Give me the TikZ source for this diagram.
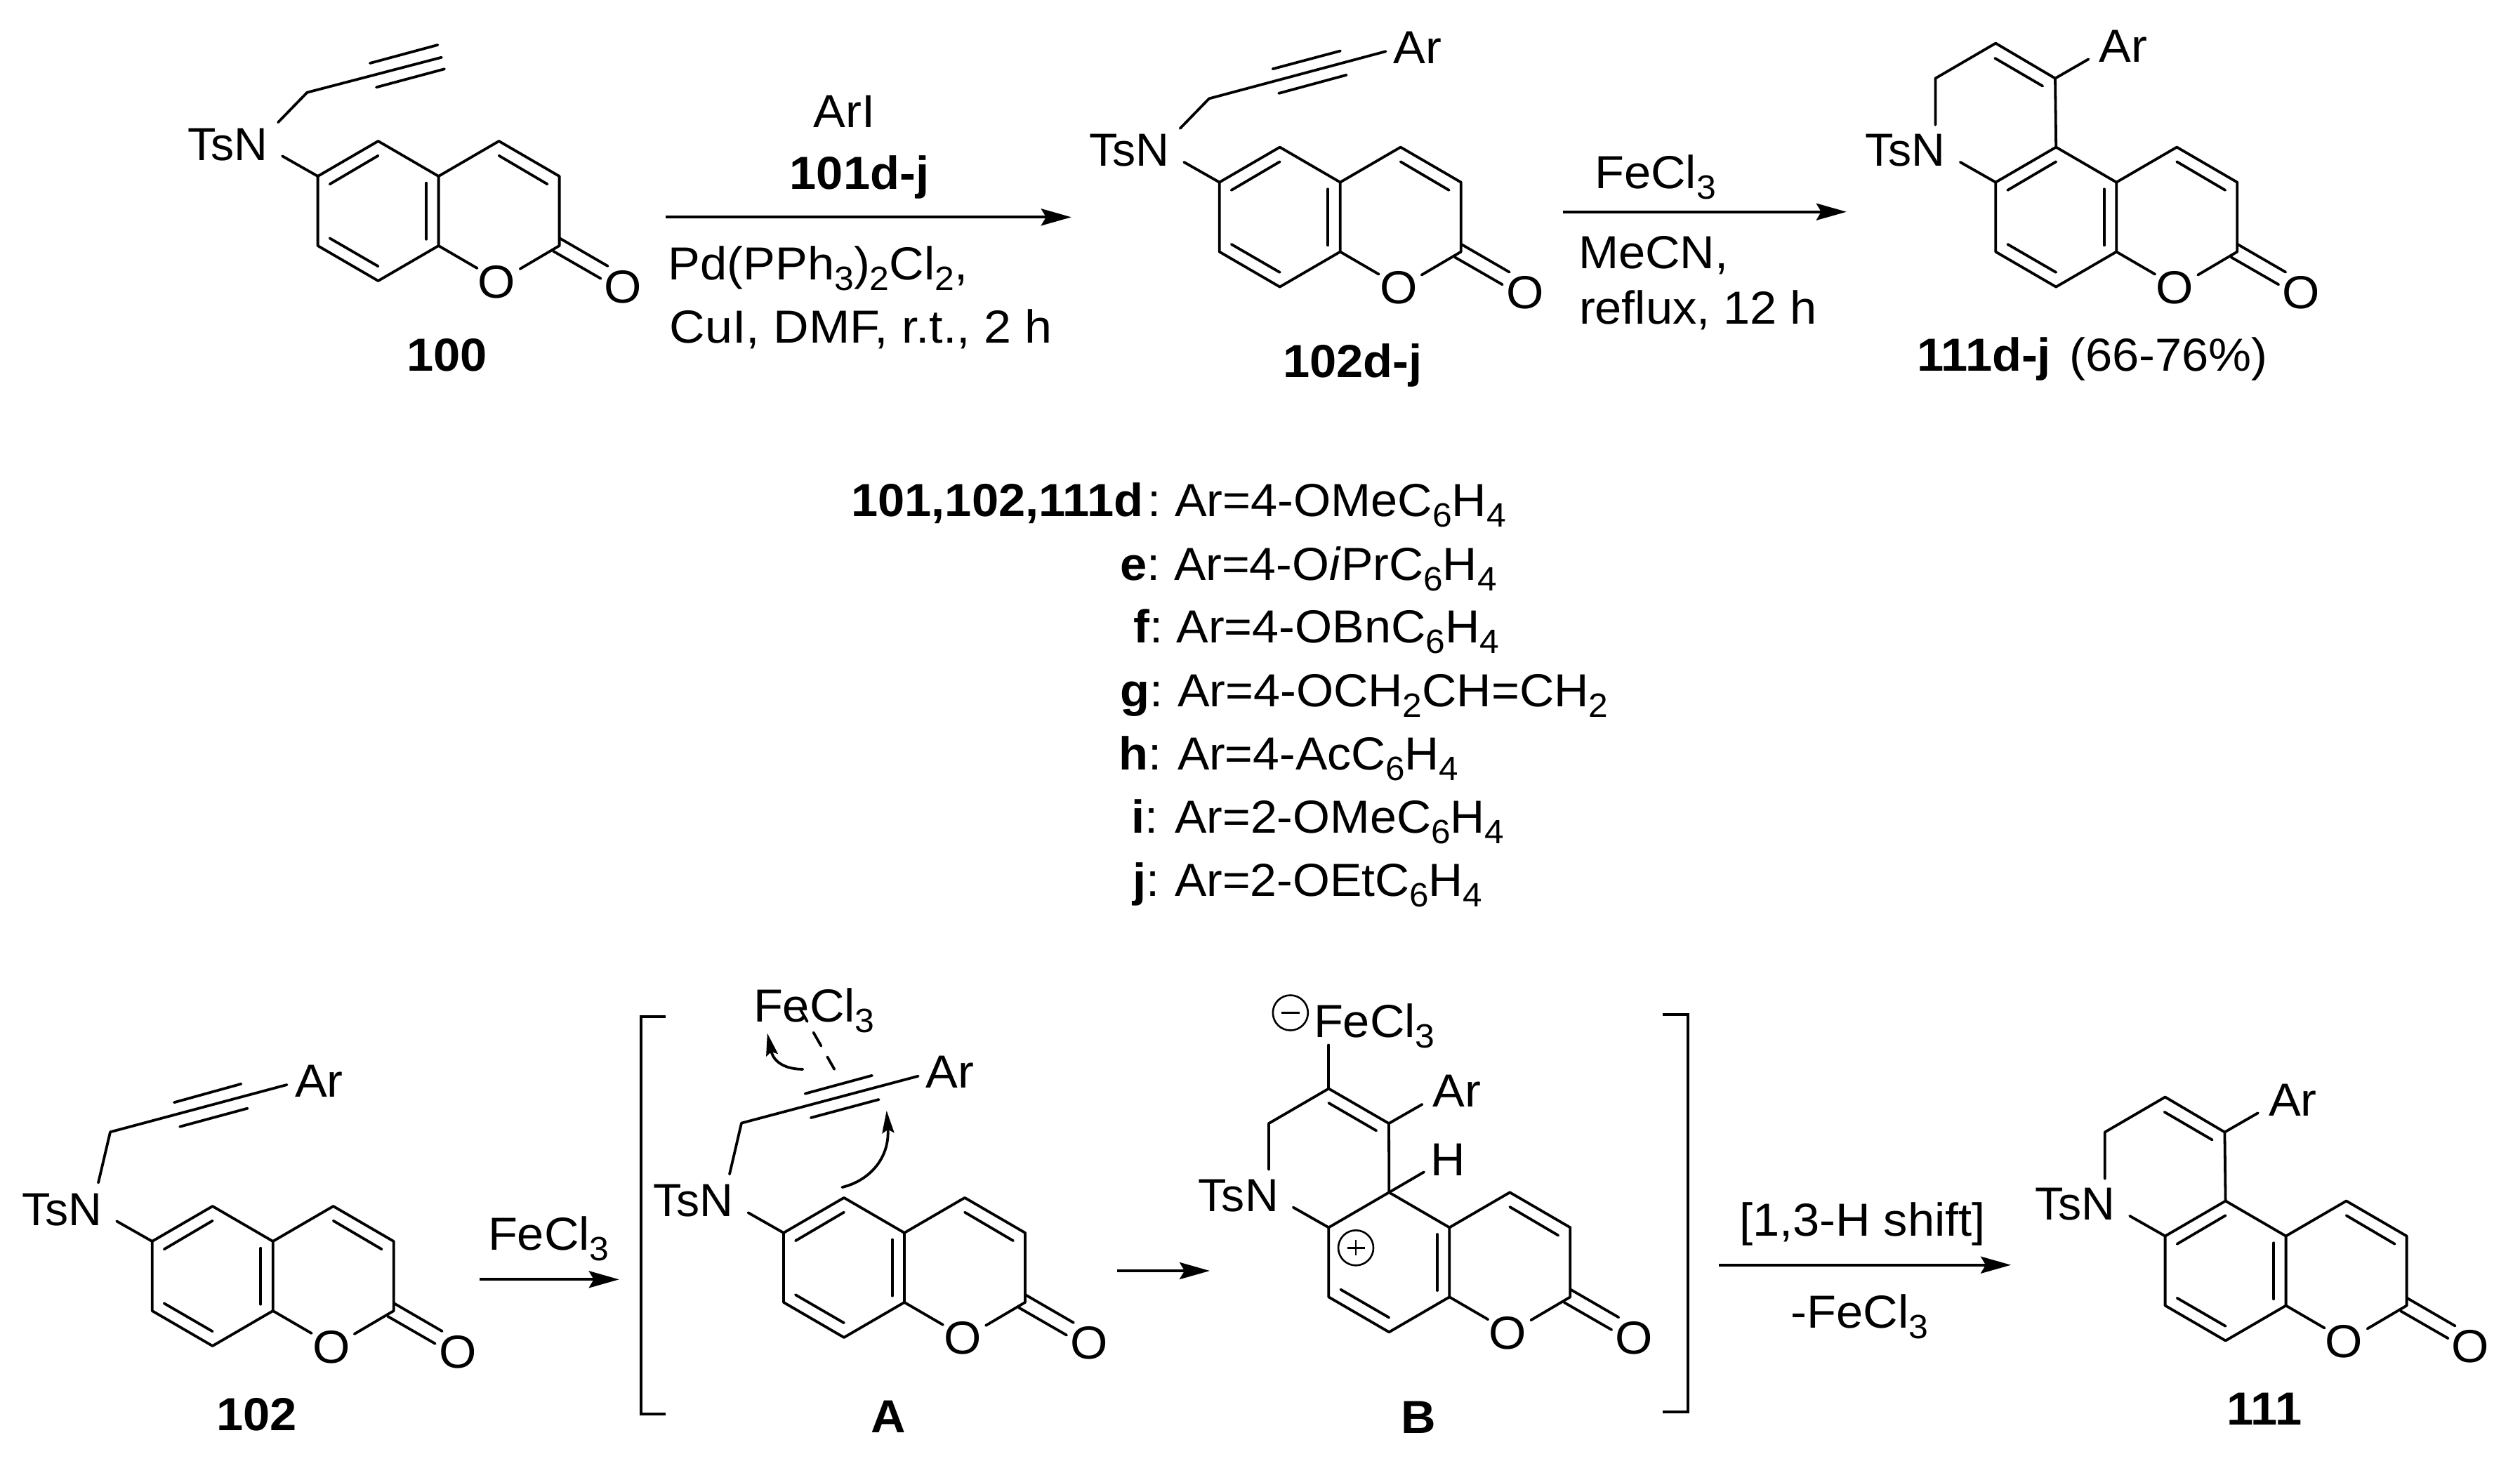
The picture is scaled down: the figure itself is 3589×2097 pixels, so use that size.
\documentclass[tikz,border=0pt]{standalone}
\usepackage{fontspec}
\usepackage{graphicx}
\setmainfont[FakeStretch=1.04]{Liberation Sans}
\usetikzlibrary{arrows.meta,calc}
\newcommand\subs[1]{\raisebox{-15pt}{\fontsize{48}{48}\selectfont #1}}
\newcommand\fitw[2]{\resizebox{#1pt}{\height}{#2}}
\tikzset{
  bond/.style={line width=3.8pt,line cap=round,line join=round,black},
  lab/.style={font=\fontsize{66}{72}\selectfont,inner sep=0pt,outer sep=0pt,anchor=base west,text=black},
  atomO/.style={font=\fontsize{66}{72}\selectfont,inner sep=0pt,outer sep=0pt,anchor=base,text=black},
  rxn/.style={line width=4pt,black,-{Stealth[length=43pt,width=24pt,inset=7pt]}},
  curly/.style={line width=3.8pt,line cap=round,black,-{Stealth[length=32pt,width=17pt,inset=5pt]}},
  brk/.style={line width=4pt,black,line join=miter},
  chg/.style={draw=black,circle,line width=2.6pt,minimum size=50pt,inner sep=0pt},
}
% coumarin core with TsN: prefix, x of C6, y of C6
\newcommand\coumarin[3]{%
  \begin{scope}[shift={(#2,#3)},name prefix=#1-]
    \coordinate (c6) at (0,0);
    \coordinate (c5) at (86,-50);
    \coordinate (c4a) at (172,0);
    \coordinate (c8a) at (172,99);
    \coordinate (c8) at (86,149);
    \coordinate (c7) at (0,99);
    \coordinate (c4) at (258,-50);
    \coordinate (c3) at (344,0);
    \coordinate (c2) at (344,99);
    \coordinate (nb) at (-50.5,-28.7);
    \coordinate (ob1) at (227,131);
    \coordinate (ob2) at (288,132);
    \coordinate (eu1) at (344,88);
    \coordinate (eu2) at (413,128);
    \coordinate (el1) at (335.3,106.7);
    \coordinate (el2) at (403,145.7);
    \node[lab] (tsn) at (-185.5,-23) {\fitw{114}{TsN}};
    \node[atomO] (o1) at (255,173) {O};
    \node[atomO] (oe) at (435,180) {O};
    \draw[bond] (nb) -- (c6) -- (c5) -- (c4a) -- (c4) -- (c3) -- (c2) -- (ob2);
    \draw[bond] (c6) -- (c7) -- (c8) -- (c8a) -- (c4a);
    \draw[bond] (c8a) -- (ob1);
    \draw[bond] (eu1) -- (eu2);
    \draw[bond] (el1) -- (el2);
    \draw[bond] (154.6,9.7) -- (154.6,89.7);
    \draw[bond] (258,-29.3) -- (327,11.3);
    \draw[bond] (17,88.3) -- (86,128.3);
  \end{scope}}
% inner line of the C6=C5 double bond
\newcommand\innerdb[3]{%
  \begin{scope}[shift={(#2,#3)},name prefix=#1-]
    \draw[bond] (17,11.3) -- (86,-29.3);
  \end{scope}}
% propargyl chain: prefix, N end, CH2, chain end, upper start/end, lower start/end
\newcommand\chain[8]{%
  \coordinate (#1-na) at (#2);
  \coordinate (#1-ch) at (#3);
  \coordinate (#1-tr) at (#4);
  \coordinate (#1-ua) at (#5);
  \coordinate (#1-ub) at (#6);
  \coordinate (#1-la) at (#7);
  \coordinate (#1-lb) at (#8);
  \draw[bond] (#1-na) -- (#1-ch) -- (#1-tr);
  \draw[bond] (#1-ua) -- (#1-ub);
  \draw[bond] (#1-la) -- (#1-lb);}
% dihydropyridine ring of the fused products: prefix, x, y of C6
\newcommand\fused[3]{%
  \begin{scope}[shift={(#2,#3)},name prefix=#1-]
    \coordinate (r1) at (84.8,-148);
    \coordinate (r2) at (0,-198);
    \coordinate (r3) at (-85.8,-148);
    \coordinate (r4) at (-85.8,-81.7);
    \coordinate (ar) at (132.2,-175.3);
    \coordinate (f1) at (-1,-176.7);
    \coordinate (f2) at (67,-137);
    \node[lab] (arl) at (147.4,-171) {Ar};
    \draw[bond] (c5) -- (r1) -- (r2) -- (r3) -- (r4);
    \draw[bond] (r1) -- (ar);
    \draw[bond] (f1) -- (f2);
  \end{scope}}
\begin{document}
\begin{tikzpicture}[x=1pt,y=-1pt]
\useasboundingbox (0,0) rectangle (3589,2097);
\fill[white] (0,0) rectangle (3589,2097);

% ---- 100
\coumarin{m100}{452.6}{251}
\innerdb{m100}{452.6}{251}
\chain{m100}{396,174.3}{437.4,131.7}{628.9,81.7}{527,90}{623.4,64}{536,124.3}{633,98.3}
\node[lab] (l100) at (579.5,528.3) {\textbf{100}};

% ---- first arrow
\coordinate (a1s) at (948.4,309.3);
\coordinate (a1e) at (1525.8,309.3);
\draw[rxn] (a1s) -- (a1e);
\node[lab] (t-ari) at (1158.8,181.7) {ArI};
\node[lab] (t-101) at (1124.8,269.3) {\textbf{101d-j}};
\node[lab] (t-pd) at (951.8,398.3) {Pd(PPh\subs{3})\subs{2}Cl\subs{2},};
\node[lab] (t-cui) at (953.8,488.3) {\fitw{545}{CuI, DMF, r.t., 2 h}};

% ---- 102d-j
\coumarin{m102a}{1736.7}{259.6}
\innerdb{m102a}{1736.7}{259.6}
\chain{m102a}{1680.7,182.9}{1722,140.4}{1973.6,73.2}{1812.5,98.2}{1908.9,72.5}{1821.2,132.9}{1917.6,106.8}
\node[lab] (ar102a) at (1984.6,90) {Ar};
\node[lab] (l102a) at (1827.4,537.5) {\textbf{102d-j}};

% ---- second arrow
\coordinate (a2s) at (2225.8,301.7);
\coordinate (a2e) at (2629.8,301.7);
\draw[rxn] (a2s) -- (a2e);
\node[lab] (t-fe1) at (2271.3,268.3) {FeCl\subs{3}};
\node[lab] (t-mecn) at (2248,382.7) {MeCN,};
\node[lab] (t-reflux) at (2249,461.7) {\fitw{339}{reflux, 12 h}};

% ---- 111d-j
\coumarin{m111a}{2842.2}{259.6}
\innerdb{m111a}{2842.2}{259.6}
\fused{m111a}{2842.2}{259.6}
\node[lab] (l111a) at (2730.2,528.6) {\textbf{111d-j}};
\node[lab] (t-yield) at (2947.5,528.6) {(66-76\%)};

% ---- substituent list
\node[lab] (k-d) at (1212.4,735.8) {\textbf{101,102,111d}\kern6pt:};
\node[lab] (v-d) at (1673,735.8) {\fitw{472}{Ar=4-OMeC\subs{6}H\subs{4}}};
\node[lab] (k-e) at (1595.4,826.2) {\textbf{e}:};
\node[lab] (v-e) at (1672,826.2) {\fitw{459.5}{Ar=4-O\textit{i}PrC\subs{6}H\subs{4}}};
\node[lab] (k-f) at (1614,915.5) {\textbf{f}:};
\node[lab] (v-f) at (1675.6,915.5) {\fitw{459.5}{Ar=4-OBnC\subs{6}H\subs{4}}};
\node[lab] (k-g) at (1595.4,1006.4) {\textbf{g}:};
\node[lab] (v-g) at (1677,1006.4) {\fitw{613.5}{Ar=4-OCH\subs{2}CH=CH\subs{2}}};
\node[lab] (k-h) at (1593.4,1096.5) {\textbf{h}:};
\node[lab] (v-h) at (1677,1096.5) {\fitw{400.4}{Ar=4-AcC\subs{6}H\subs{4}}};
\node[lab] (k-i) at (1611.8,1186) {\textbf{i}:};
\node[lab] (v-i) at (1673.3,1186) {\fitw{469}{Ar=2-OMeC\subs{6}H\subs{4}}};
\node[lab] (k-j) at (1613.6,1276.6) {\textbf{j}:};
\node[lab] (v-j) at (1673.3,1276.6) {\fitw{438}{Ar=2-OEtC\subs{6}H\subs{4}}};

% ---- 102
\coumarin{m102}{216.7}{1768}
\innerdb{m102}{216.7}{1768}
\chain{m102}{140,1684.6}{157,1612.3}{408.6,1545}{248,1570.2}{343.4,1543.8}{256.2,1604.7}{352.6,1578.6}
\node[lab] (ar102) at (420,1562.2) {Ar};
\node[lab] (l102) at (308.4,2037) {\textbf{102}};

% ---- third arrow
\coordinate (a3s) at (683.3,1822.3);
\coordinate (a3e) at (881.7,1822.3);
\draw[rxn] (a3s) -- (a3e);
\node[lab] (t-fe2) at (695,1780) {FeCl\subs{3}};

% ---- left bracket
\coordinate (bl1) at (948,1448.3);
\coordinate (bl2) at (912.9,1448.3);
\coordinate (bl3) at (912.9,2014);
\coordinate (bl4) at (948,2014);
\draw[brk] (bl1) -- (bl2) -- (bl3) -- (bl4);

% ---- A
\coumarin{ma}{1116}{1755.9}
\innerdb{ma}{1116}{1755.9}
\chain{ma}{1039,1672.4}{1056,1599.6}{1307.7,1532.7}{1146.6,1557.7}{1242,1531.8}{1154.8,1592}{1251.7,1566}
\node[lab] (arA) at (1318.7,1549.6) {Ar};
\node[lab] (feA) at (1073,1455) {FeCl\subs{3}};
\coordinate (da) at (1138.8,1435.8);
\coordinate (db) at (1188.3,1522.9);
\draw[line width=3.8pt,line cap=round,dash pattern=on 22pt off 18pt] (da) -- (db);
\coordinate (ca1) at (1143.3,1522.9);
\coordinate (ca2) at (1092.8,1471.5);
\draw[curly] (ca1) .. controls (1120.4,1522.9) and (1102,1514) .. (ca2);
\coordinate (cb1) at (1199.4,1691);
\coordinate (cb2) at (1262.7,1581.8);
\draw[curly] (cb1) .. controls (1239.8,1681.3) and (1267.3,1647.9) .. (cb2);
\node[lab] (lA) at (1240.7,2040.7) {\textbf{A}};

% ---- short arrow
\coordinate (a5s) at (1591,1810);
\coordinate (a5e) at (1723,1810);
\draw[rxn] (a5s) -- (a5e);

% ---- B
\coumarin{mb}{1892.3}{1748.3}
\begin{scope}[shift={(1892.3,1748.3)},name prefix=mb-]
  \coordinate (r1) at (85.7,-148.2);
  \coordinate (r2) at (0,-197.8);
  \coordinate (r3) at (-85.3,-148.2);
  \coordinate (r4) at (-85.3,-82.6);
  \coordinate (fe) at (0,-259.8);
  \coordinate (ar) at (133.2,-175.4);
  \coordinate (hb) at (135.7,-79);
  \coordinate (f1) at (0,-177.3);
  \coordinate (f2) at (67.9,-137.9);
  \draw[bond] (c5) -- (r1) -- (r2) -- (r3) -- (r4);
  \draw[bond] (r2) -- (fe);
  \draw[bond] (r1) -- (ar);
  \draw[bond] (c5) -- (hb);
  \draw[bond] (f1) -- (f2);
\end{scope}
\node[lab] (arB) at (2040.3,1576.4) {Ar};
\node[lab] (hB) at (2037.9,1674.6) {H};
\node[lab] (feB) at (1871,1477.3) {FeCl\subs{3}};
\node[chg] (minus) at (1837.8,1442.5) {};
\draw[line width=2.6pt] ($(minus)+(-13,0)$) -- ($(minus)+(13,0)$);
\node[chg] (plus) at (1931,1777.3) {};
\draw[line width=2.6pt] ($(plus)+(-12.5,0)$) -- ($(plus)+(12.5,0)$);
\draw[line width=2.6pt] ($(plus)+(0,-11)$) -- ($(plus)+(0,11)$);
\node[lab] (lB) at (1995.4,2041.6) {\textbf{B}};

% ---- right bracket
\coordinate (br1) at (2367.9,1444.7);
\coordinate (br2) at (2403.5,1444.7);
\coordinate (br3) at (2403.5,2010.8);
\coordinate (br4) at (2367.9,2010.8);
\draw[brk] (br1) -- (br2) -- (br3) -- (br4);

% ---- last arrow
\coordinate (a4s) at (2448.3,1801.7);
\coordinate (a4e) at (2864,1801.7);
\draw[rxn] (a4s) -- (a4e);
\node[lab] (t-shift) at (2477,1760) {[1,3-H shift]};
\node[lab] (t-fe3) at (2550.7,1891.7) {-FeCl\subs{3}};

% ---- 111
\coumarin{m111}{3083.6}{1760.5}
\innerdb{m111}{3083.6}{1760.5}
\fused{m111}{3083.6}{1760.5}
\node[lab] (l111) at (3171.4,2029) {\textbf{111}};
\end{tikzpicture}
\end{document}
